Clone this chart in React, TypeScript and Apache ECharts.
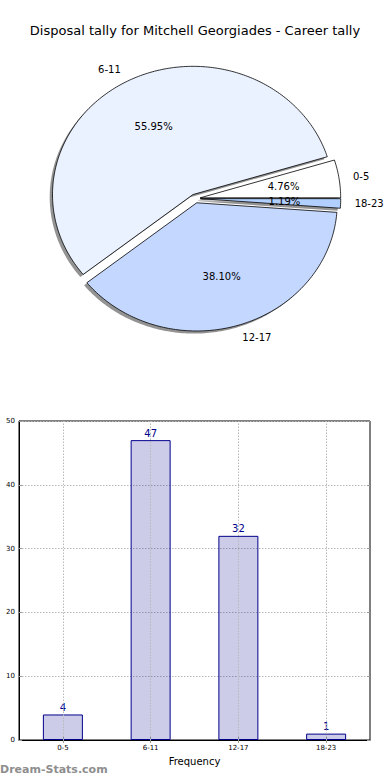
import React, { useEffect, useRef } from "react";
import * as echarts from "echarts";

const categories = ["0-5", "6-11", "12-17", "18-23"];
const counts = [4, 47, 32, 1];
const sliceColors = ["#ffffff", "#eaf1ff", "#c4d8ff", "#b2d0ff"];
const titleText = "Disposal tally for Mitchell Georgiades - Career tally";
const xAxisName = "Frequency";
const watermark = "Dream-Stats.com";
const yMin = 0;
const yMax = 50;
const yInterval = 10;

const PIE_CX = 195.3;
const PIE_CY = 198.5;
const PIE_RX = 140.5;
const PIE_RY = 128.2;
const EXPLODE = 0.035;
const SHADOW_DX = -2.8;
const SHADOW_DY = 2.6;
const FONT = "DejaVu Sans";
const BAR_TOP = 400;

const total = counts.reduce((a, b) => a + b, 0);

function sliceGeom(i: number, v: number) {
  let cum = 0;
  for (let k = 0; k < i; k++) cum += counts[k];
  const a1 = (cum / total) * 360;
  const a2 = ((cum + v) / total) * 360;
  const mid = ((a1 + a2) / 2) * (Math.PI / 180);
  const ox = PIE_CX + EXPLODE * PIE_RX * Math.cos(mid);
  const oy = PIE_CY - EXPLODE * PIE_RY * Math.sin(mid);
  return { a1, a2, mid, ox, oy };
}

function slicePoints(ox: number, oy: number, a1: number, a2: number) {
  const pts: number[][] = [[ox, oy]];
  const steps = Math.max(2, Math.ceil(a2 - a1));
  for (let k = 0; k <= steps; k++) {
    const a = ((a1 + ((a2 - a1) * k) / steps) * Math.PI) / 180;
    pts.push([ox + PIE_RX * Math.cos(a), oy - PIE_RY * Math.sin(a)]);
  }
  return pts;
}

const tickStyle = { show: true, inside: true, length: 3, lineStyle: { color: "#999", width: 1 } };

export default function App() {
  const pieRef = useRef<HTMLDivElement>(null);
  const barRef = useRef<HTMLDivElement>(null);
  useEffect(() => {
    if (!pieRef.current || !barRef.current) return;
    const pie = echarts.init(pieRef.current, undefined, { renderer: "svg" });
    const bar = echarts.init(barRef.current, undefined, { renderer: "svg" });
    pie.setOption({
      animation: false,
      graphic: [
        {
          type: "text",
          style: {
            text: titleText,
            x: 195,
            y: 30,
            align: "center",
            verticalAlign: "middle",
            fill: "#000",
            font: `13px '${FONT}'`,
          },
        },
      ],
      series: [
        {
          type: "custom",
          coordinateSystem: "none",
          data: counts,
          renderItem: (params: any, api: any) => {
            const g = sliceGeom(params.dataIndex, api.value(0));
            const pts = slicePoints(g.ox + SHADOW_DX, g.oy + SHADOW_DY, g.a1, g.a2);
            return { type: "polygon", shape: { points: pts }, style: { fill: "rgba(40,40,40,0.5)" } };
          },
        },
        {
          type: "custom",
          coordinateSystem: "none",
          data: counts,
          renderItem: (params: any, api: any) => {
            const i = params.dataIndex;
            const g = sliceGeom(i, api.value(0));
            return {
              type: "polygon",
              shape: { points: slicePoints(g.ox, g.oy, g.a1, g.a2) },
              style: { fill: sliceColors[i], stroke: "#000", lineWidth: 0.8 },
            };
          },
        },
        {
          type: "custom",
          coordinateSystem: "none",
          data: counts,
          renderItem: (params: any, api: any) => {
            const i = params.dataIndex;
            const v = api.value(0);
            const g = sliceGeom(i, v);
            const c = Math.cos(g.mid);
            const s = Math.sin(g.mid);
            const pct = ((v / total) * 100).toFixed(2) + "%";
            return {
              type: "group",
              children: [
                {
                  type: "text",
                  style: {
                    text: categories[i],
                    x: g.ox + 1.1 * PIE_RX * c,
                    y: g.oy - 1.1 * PIE_RY * s,
                    align: c >= 0 ? "left" : "right",
                    verticalAlign: "middle",
                    fill: "#000",
                    font: `10px '${FONT}'`,
                  },
                },
                {
                  type: "text",
                  style: {
                    text: pct,
                    x: g.ox + 0.6 * PIE_RX * c,
                    y: g.oy - 0.6 * PIE_RY * s,
                    align: "center",
                    verticalAlign: "middle",
                    fill: "#000",
                    font: `10px '${FONT}'`,
                  },
                },
              ],
            };
          },
        },
      ],
    });
    bar.setOption({
      animation: false,
      grid: {
        left: 19,
        top: 421 - BAR_TOP,
        width: 351,
        height: 319,
        show: true,
        borderColor: "#000",
        borderWidth: 1,
        backgroundColor: "transparent",
        containLabel: false,
        outerBoundsMode: "none",
      },
      xAxis: [
        {
          type: "category",
          data: categories,
          boundaryGap: true,
          name: xAxisName,
          nameLocation: "middle",
          nameGap: 16,
          nameTextStyle: { fontFamily: FONT, fontSize: 10, color: "#000" },
          axisLine: { show: true, lineStyle: { color: "#000", width: 1 } },
          axisTick: { ...tickStyle, alignWithLabel: true },
          axisLabel: { fontFamily: FONT, fontSize: 7, color: "#000", margin: 4 },
          splitLine: { show: false },
        },
        {
          type: "category",
          data: categories,
          position: "top",
          boundaryGap: true,
          axisLine: { show: false },
          axisTick: { ...tickStyle, alignWithLabel: true },
          axisLabel: { show: false },
          splitLine: { show: false },
        },
      ],
      yAxis: [
        {
          type: "value",
          min: yMin,
          max: yMax,
          interval: yInterval,
          axisLine: { show: true, lineStyle: { color: "#000", width: 1 } },
          axisTick: tickStyle,
          axisLabel: { fontFamily: FONT, fontSize: 7, color: "#000", margin: 4 },
          splitLine: { show: true, lineStyle: { color: "#b8b8b8", type: [1.5, 1.5], width: 1 } },
        },
        {
          type: "value",
          position: "right",
          min: yMin,
          max: yMax,
          interval: yInterval,
          axisLine: { show: false },
          axisTick: tickStyle,
          axisLabel: { show: false },
          splitLine: { show: false },
        },
      ],
      graphic: [
        {
          type: "text",
          left: 0,
          top: 764 - BAR_TOP,
          style: { text: watermark, font: `bold 11px '${FONT}'`, fill: "#8e8e8e" },
        },
      ],
      series: [
        {
          type: "bar",
          data: counts,
          xAxisIndex: 0,
          yAxisIndex: 0,
          barWidth: 40,
          itemStyle: { color: "rgba(0,0,139,0.2)", borderColor: "#00008b", borderWidth: 1 },
          label: { show: true, position: "top", distance: 2, color: "#00008b", fontFamily: FONT, fontSize: 10 },
          markLine: {
            silent: true,
            symbol: ["none", "none"],
            label: { show: false },
            lineStyle: { color: "#b8b8b8", type: [1.5, 1.5], width: 1 },
            data: categories.map((c) => ({ xAxis: c })),
          },
        },
      ],
    });
    return () => {
      pie.dispose();
      bar.dispose();
    };
  }, []);
  return (
    <div style={{ position: "fixed", left: 0, top: 0, width: 390, height: 780, background: "#fff" }}>
      <div ref={pieRef} style={{ position: "absolute", left: 0, top: 0, width: 390, height: BAR_TOP }} />
      <div ref={barRef} style={{ position: "absolute", left: 0, top: BAR_TOP, width: 390, height: 780 - BAR_TOP }} />
    </div>
  );
}
